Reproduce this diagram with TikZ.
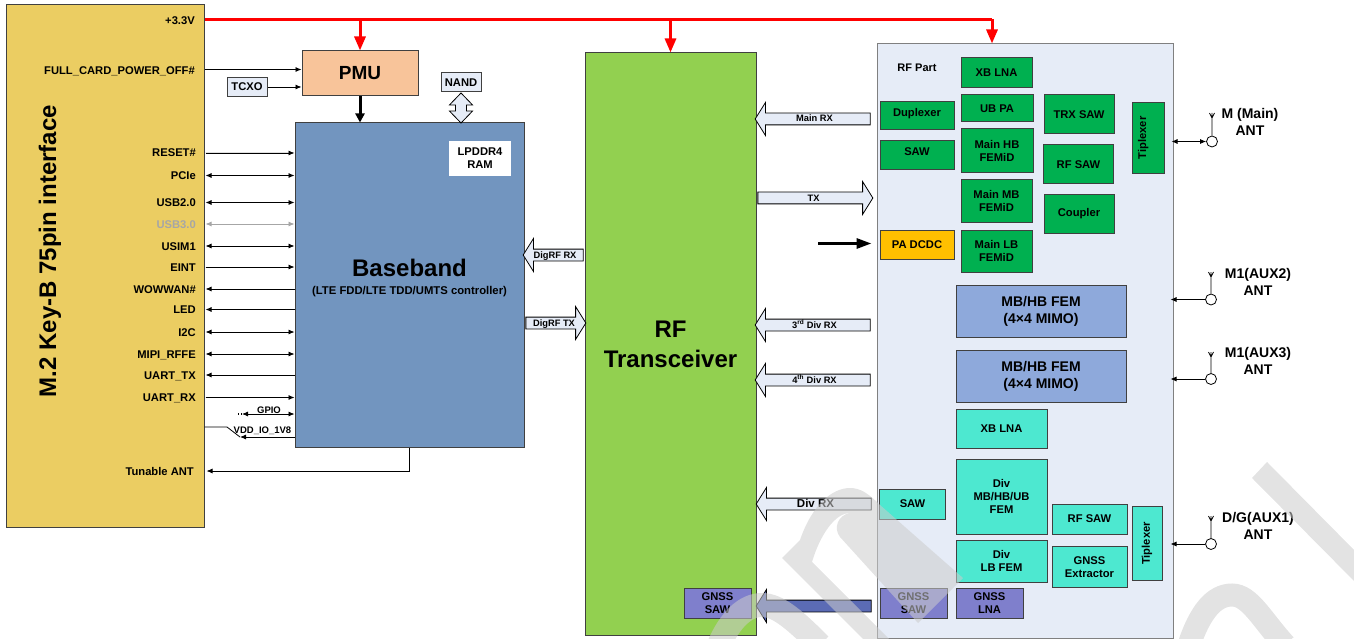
\documentclass[tikz,border=0pt]{standalone}
\usepackage{fontspec}
\setmainfont{Liberation Sans}
\usetikzlibrary{arrows.meta,
	shapes.arrows}
\definecolor{cardfill}{HTML}{EBCD62}
\definecolor{pmufill}{HTML}{F8C49A}
\definecolor{palefill}{HTML}{E6ECF7}
\definecolor{bbfill}{HTML}{7295BF}
\definecolor{rffill}{HTML}{92D050}
\definecolor{greenfill}{HTML}{00B050}
\definecolor{tealfill}{HTML}{4DE8D0}
\definecolor{femfill}{HTML}{8EA9DB}
\definecolor{gnssfill}{HTML}{7F7FCC}
\definecolor{gnssarrow}{HTML}{5B6BB5}
\definecolor{pafill}{HTML}{FFC000}
\definecolor{edgegray}{HTML}{404040}
\tikzset{
	x=1pt, y=-1pt,
	txt/.style={font=\bfseries\fontsize{11.2}{13}\selectfont, align=center, inner sep=0pt},
	blockbox/.style={txt, draw=edgegray, line width=1pt, rectangle},
	greenbox/.style={blockbox, fill=greenfill},
	tealbox/.style={blockbox, fill=tealfill},
	gnssbox/.style={blockbox, fill=gnssfill},
	sigleft/.style={txt, anchor=east, text height=8pt, text depth=0pt},
	sig/.style={line width=.8pt, >={Latex[length=6pt,width=5pt]}},
	powerline/.style={red, line width=3pt, -{Triangle[length=14pt,width=11pt]}},
	bigarrow/.style={single arrow, draw=black, line width=.8pt, fill=palefill, inner sep=0pt, minimum width=32pt,
		single arrow head extend=10.5pt, single arrow tip angle=116, text height=8.5pt, text depth=2.5pt,
		font=\bfseries\fontsize{9.3}{10}\selectfont},
	antlabel/.style={txt, font=\bfseries\fontsize{14}{17}\selectfont},
	antcircle/.style={circle, draw=black, fill=white, line width=.8pt, minimum size=11pt, inner sep=0pt},
	watermark/.style={black!20, opacity=.55}
}
\begin{document}
\begin{tikzpicture}
	\useasboundingbox (0,0) rectangle (1354,639);

	% main blocks
	\node[blockbox, fill=cardfill, minimum width=198, minimum height=522] (card) at (105,266) {};
	\node[font=\bfseries\fontsize{24}{24}\selectfont, rotate=90, inner sep=0pt] (cardtitle) at (50,251) {M.2 Key-B 75pin interface};
	\node[blockbox, fill=pmufill, minimum width=116, minimum height=45, font=\bfseries\fontsize{19}{19}\selectfont] (pmu) at (360,73.5) {PMU};
	\node[blockbox, fill=palefill, minimum width=40, minimum height=19] (tcxo) at (247,87) {TCXO};
	\node[blockbox, fill=bbfill, minimum width=229, minimum height=324] (bb) at (409.5,285) {};
	\node[font=\bfseries\fontsize{24}{24}\selectfont, inner sep=0pt] (bbtitle) at (409.5,268) {Baseband};
	\node[txt, font=\bfseries\fontsize{11.3}{13}\selectfont] (bbsub) at (409.5,292) {(LTE FDD/LTE TDD/UMTS controller)};
	\node[txt, fill=white, minimum width=62, minimum height=35] (ram) at (480,158.5) {LPDDR4\\RAM};
	\node[blockbox, fill=palefill, minimum width=40, minimum height=19] (nand) at (461,82.5) {NAND};
	\node[double arrow, draw=black, line width=.8pt, fill=palefill, rotate=90, inner sep=0pt, minimum height=30pt, minimum width=23pt,
		double arrow head extend=6pt, double arrow tip angle=88, text height=5pt, text depth=5pt] (nandlink) at (461,108) {};
	\node[blockbox, fill=rffill, minimum width=171, minimum height=582] (rf) at (670.5,344) {};
	\node[font=\bfseries\fontsize{24}{30}\selectfont, align=center, inner sep=0pt] (rftitle) at (670.5,344) {RF\\Transceiver};
	\node[blockbox, draw=gray, fill=palefill, minimum width=296, minimum height=594] (part) at (1025,341) {};
	\node[txt, font=\bfseries\fontsize{11}{13}\selectfont] (parttitle) at (917,68) {RF Part};

	% main path, green
	\node[greenbox, minimum width=71, minimum height=30] (xblna) at (996.5,72.5) {XB LNA};
	\node[greenbox, minimum width=72, minimum height=27] (ubpa) at (997,108.5) {UB PA};
	\node[greenbox, minimum width=72, minimum height=44] (hb) at (997,151) {Main HB\\FEMiD};
	\node[greenbox, minimum width=71, minimum height=42] (mb) at (996.5,201) {Main MB\\FEMiD};
	\node[greenbox, minimum width=71, minimum height=42] (lb) at (996.5,251) {Main LB\\FEMiD};
	\node[greenbox, minimum width=74, minimum height=28, text depth=8pt] (dup) at (917,116) {Duplexer};
	\node[greenbox, minimum width=74, minimum height=29, text depth=8pt] (saw) at (917,155.5) {SAW};
	\node[blockbox, fill=pafill, minimum width=74, minimum height=29] (pa) at (917,244.5) {PA DCDC};
	\node[greenbox, minimum width=70, minimum height=39] (trx) at (1079,114.5) {TRX SAW};
	\node[greenbox, minimum width=70, minimum height=39] (rfsaw) at (1078.5,164.5) {RF SAW};
	\node[greenbox, minimum width=70, minimum height=39] (coupler) at (1079,214) {Coupler};
	\node[greenbox, minimum width=71, minimum height=32, rotate=90, text depth=12pt] (tip) at (1148,138) {Tiplexer};

	\node[blockbox, fill=femfill, minimum width=170, minimum height=52, font=\bfseries\fontsize{14}{17}\selectfont] (femb) at (1041,311) {MB/HB FEM\\(4×4 MIMO)};
	\node[blockbox, fill=femfill, minimum width=170, minimum height=52, font=\bfseries\fontsize{14}{17}\selectfont] (femc) at (1041,376) {MB/HB FEM\\(4×4 MIMO)};

	% diversity path, teal
	\node[tealbox, minimum width=91, minimum height=39] (xbdiv) at (1001.5,428.5) {XB LNA};
	\node[tealbox, minimum width=91, minimum height=75] (divmb) at (1001.5,496.5) {Div\\MB/HB/UB\\FEM};
	\node[tealbox, minimum width=91, minimum height=42] (divlb) at (1001.5,561) {Div\\LB FEM};
	\node[tealbox, minimum width=66, minimum height=30] (divsaw) at (912.5,504) {SAW};
	\node[tealbox, minimum width=75, minimum height=30] (rfsawb) at (1089.5,519) {RF SAW};
	\node[tealbox, minimum width=75, minimum height=41] (extractor) at (1089.5,567) {GNSS\\Extractor};
	\node[tealbox, minimum width=74, minimum height=30, rotate=90] (tipb) at (1147,543.5) {Tiplexer};
	\node[gnssbox, minimum width=67, minimum height=30] (gnssrf) at (717.5,603) {GNSS\\SAW};
	\node[gnssbox, minimum width=67, minimum height=30] (gnsssaw) at (913.5,603) {GNSS\\SAW};
	\node[gnssbox, minimum width=67, minimum height=30] (gnsslna) at (989.5,603) {GNSS\\LNA};

	% power rail
	\coordinate (railstart) at (205,19.5);
	\coordinate (railend) at (992,19.5);
	\node[sigleft] (vcc) at (195,21) {+3.3V};
	\draw[red, line width=3pt] (railstart) -- (railend);
	\draw[powerline] (pmu.north |- railstart) -- (pmu.north);
	\draw[powerline] (rf.north |- railstart) -- (rf.north);
	\draw[powerline] (railend) -- (railend |- part.north);
	\draw[line width=3pt, -{Triangle[length=9pt,width=9pt]}] (pmu.south) -- (pmu.south |- bb.north);

	% control lines
	\node[sigleft] (fullcard) at (195,71) {FULL\_CARD\_POWER\_OFF\#};
	\draw[sig, ->] (card.east |- 0,69.5) -- (pmu.west |- 0,69.5);
	\draw[sig, ->] (tcxo.east) -- (pmu.west |- tcxo.east);

	% card to baseband signals
	\foreach \label/\ypos/\tips/\sigcolor in {RESET\#/153/->/black, PCIe/175.5/<->/black, USB2.0/202.5/<->/black,
			USB3.0/224/<->/black!35, USIM1/246/<->/black, EINT/267/->/black, WOWWAN\#/289/<-/black, LED/309.5/<-/black,
			I2C/332/<->/black, MIPI\_RFFE/354/<->/black, UART\_TX/375/<-/black, UART\_RX/397.5/->/black} {
		\node[sigleft, text=\sigcolor] (siglabel) at (196,\ypos) {\label};
		\draw[sig, \tips, draw=\sigcolor, fill=\sigcolor, shorten <=1pt] (card.east |- siglabel) -- (bb.west |- siglabel);
	}

	% short stubs under the signal list
	\node[txt, font=\bfseries\fontsize{9.5}{10}\selectfont, anchor=south] (gpio) at (269,414) {GPIO};
	\coordinate (gpiostart) at (238,414);
	\draw[sig, <->, shorten <=4pt] (gpiostart) -- (bb.west |- gpiostart);
	\draw[line width=1.2pt, dotted] (gpiostart) -- ++(4,0);
	\node[txt, font=\bfseries\fontsize{9.5}{10}\selectfont, anchor=south] (vdd) at (262.5,435) {VDD\_IO\_1V8};
	\coordinate (vddup) at (227,427);
	\coordinate (vddlow) at (240,437);
	\draw[sig] (card.east |- vddup) -- (vddup) -- (vddlow);
	\draw[sig, <-] (vddlow) -- (bb.west |- vddlow);
	\node[sigleft] (tunable) at (194,471) {Tunable ANT};
	\draw[sig, ->] (bb.south) |- ([xshift=2pt]card.east |- tunable);

	% block arrows
	\node[bigarrow, minimum height=115pt, shape border rotate=180] (mainrx) at (814.5,119) {Main RX};
	\node[bigarrow, minimum height=115pt] (tx) at (813.5,198) {TX};
	\node[bigarrow, minimum height=60pt, shape border rotate=180] (digrx) at (555,255) {DigRF RX};
	\node[bigarrow, minimum height=60pt] (digtx) at (554,323) {DigRF TX};
	\node[bigarrow, minimum height=115pt, shape border rotate=180] (thirdrx) at (814.5,325) {3\textsuperscript{rd} Div RX};
	\node[bigarrow, minimum height=115pt, shape border rotate=180] (fourthrx) at (814.5,380) {4\textsuperscript{th} Div RX};
	\node[bigarrow, minimum height=115pt, shape border rotate=180, font=\bfseries\fontsize{11.5}{12}\selectfont] (divrx) at (815.5,504) {Div RX};
	\node[bigarrow, minimum height=115pt, shape border rotate=180, fill=gnssarrow] (gnssrx) at (815.5,606) {};
	\coordinate (pafree) at (818,243.5);
	\draw[line width=3pt, -{Triangle[length=15pt,width=10pt]}] (pafree) -- ([xshift=-8pt]pa.west |- pafree);

	% antennas
	\foreach \ant/\xpos/\ypos/\antop/\xlab/\ytop/\first in {mainant/1212/141.5/113/1250/113/{M (Main)},
			auxb/1211/299.5/272/1258/273/{M1(AUX2)}, auxc/1211/379/352/1258/352/{M1(AUX3)}, auxa/1211/544/516/1258/517/{D/G(AUX1)}} {
		\node[antcircle] (\ant) at (\xpos,\ypos) {};
		\coordinate (\ant top) at (\xpos,\antop);
		\draw[sig] (\ant.north) -- (\ant top) ++(0,5) -- ++(-2.5,-5) ++(2.5,5) -- ++(2.5,-5);
		\node[antlabel] (\ant name) at (\xlab,\ytop+8.5) {\first\\ANT};
	}
	\draw[sig, <->] ([xshift=-2pt]part.east |- mainant) -- (mainant.west);
	\draw[sig, <-] ([xshift=-3pt]part.east |- auxb) -- (auxb.west);
	\draw[sig, <-] ([xshift=-3pt]part.east |- auxc) -- (auxc.west);
	\draw[sig, <-] ([xshift=-3pt]part.east |- auxa) -- (auxa.west);

	% watermark strokes over everything
	\begin{scope}
		\clip (0,0) rectangle (1354,639);
		\fill[watermark] (1267,462) -- (1360,556) -- (1360,587) -- (1252,478) -- cycle;
		\draw[watermark, line width=23pt] (1189,645) .. controls (1200,612) and (1214,595) .. (1232,595) .. controls (1250,595) and (1262,620) .. (1285,645);
		\draw[watermark, line width=24pt] (719,645) .. controls (730,620) and (745,605) .. (762,605) .. controls (778,605) and (795,620) .. (820,645);
		\fill[watermark] (782,558) -- (800,540) .. controls (812,505) and (832,488) .. (850,488) .. controls (860,488) and (868,493) .. (880,505)
			-- (963,578) -- (918,623) -- (840,537) .. controls (833,528) and (838,515) .. (850,513) .. controls (835,513) and (820,535) .. (812,562)
			-- (889,639) -- (863,639) -- cycle;
	\end{scope}
\end{tikzpicture}
\end{document}
